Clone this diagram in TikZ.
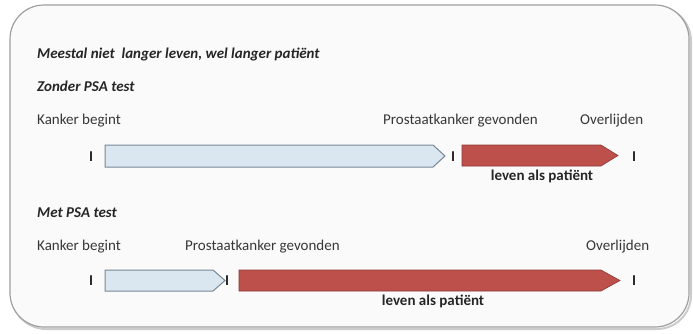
\documentclass[tikz,border=0pt]{standalone}
\usepackage{fontspec}
\setmainfont{Carlito}
\definecolor{bfill}{RGB}{219,231,240}
\definecolor{bdraw}{RGB}{120,135,150}
\definecolor{rfill}{RGB}{190,80,76}
\definecolor{rdraw}{RGB}{140,55,52}
\definecolor{txt}{RGB}{55,55,55}
\begin{document}
\begin{tikzpicture}[x=1pt,y=-1pt,
  lbl/.style={anchor=base west,inner sep=0pt,font=\fontsize{15}{17}\selectfont,text=txt},
  hdr/.style={anchor=base west,inner sep=0pt,font=\fontsize{15}{17}\selectfont\bfseries\itshape,text=black!85},
  tick/.style={inner sep=0pt,font=\fontsize{15}{17}\selectfont\bfseries,text=black!85},
  pat/.style={anchor=base,inner sep=0pt,font=\fontsize{15}{17}\selectfont\bfseries,text=black!85},
  bluearr/.style={fill=bfill,draw=bdraw,line width=1pt},
  redarr/.style={fill=rfill,draw=rdraw,line width=0.6pt}]
\useasboundingbox (0,0) rectangle (693,333);
\fill[white] (0,0) rectangle (693,333);
% frame
\draw[gray!40,line width=2pt,rounded corners=34] (12,7) rectangle (691,329);
\draw[fill=black!2,draw=gray!75,line width=1.2pt,rounded corners=34] (10,5) rectangle (689,327);
% headings
\node[hdr] (t1) at (37,58) {Meestal niet\ \ langer leven, wel langer patiënt};
\node[hdr] (t2) at (37,91) {Zonder PSA test};
\node[lbl] (k1) at (37,124) {Kanker begint};
\node[lbl] (p1) at (383,124) {Prostaatkanker gevonden};
\node[lbl] (o1) at (580,124) {Overlijden};
% row 1
\node[tick] (i1) at (91,157) {I};
\draw[bluearr] (105,145) -- (433,145) -- (445,156) -- (433,167) -- (105,167) -- cycle;
\node[tick] (i2) at (453,157) {I};
\draw[redarr] (462,145) -- (601,145) -- (618,155.5) -- (601,166) -- (462,166) -- cycle;
\node[tick] (i3) at (634,157) {I};
\node[pat] (l1) at (542,180) {leven als patiënt};
% second
\node[hdr] (t3) at (37,217) {Met PSA test};
\node[lbl] (k2) at (37,250) {Kanker begint};
\node[lbl] (p2) at (185,250) {Prostaatkanker gevonden};
\node[lbl] (o2) at (586,250) {Overlijden};
\node[tick] (j1) at (91,281) {I};
\draw[bluearr] (105,270) -- (213,270) -- (225,280.5) -- (213,291) -- (105,291) -- cycle;
\node[tick] (j2) at (227,281) {I};
\draw[redarr] (239,270) -- (601,270) -- (620,280.5) -- (601,291) -- (239,291) -- cycle;
\node[tick] (j3) at (634,281) {I};
\node[pat] (l2) at (433,305) {leven als patiënt};
\end{tikzpicture}
\end{document}
